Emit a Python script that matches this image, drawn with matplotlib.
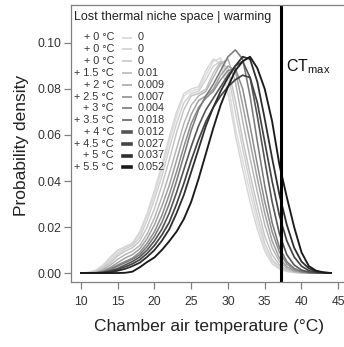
import numpy as np
import matplotlib
matplotlib.use("Agg")
import matplotlib.pyplot as plt
from matplotlib.lines import Line2D

plt.rcParams["font.family"] = ["Liberation Sans", "DejaVu Sans"]
plt.rcParams["mathtext.fontset"] = "custom"
plt.rcParams["mathtext.rm"] = "Liberation Sans"
plt.rcParams["mathtext.it"] = "Liberation Sans"

# chamber air temperature grid (degC)
temps = np.arange(10, 45, 1)

warming = ["0", "0", "0", "1.5", "2", "2.5", "3", "3.5", "4", "4.5", "5", "5.5"]
niche_lost = ["0", "0", "0", "0.01", "0.009", "0.007", "0.004", "0.018", "0.012", "0.027", "0.037", "0.052"]

dens_0a = [0, 0.0002, 0.001, 0.003, 0.0065, 0.0095, 0.011, 0.0125, 0.017, 0.025, 0.034, 0.045, 0.057, 0.068, 0.077,
           0.079, 0.080, 0.086, 0.092, 0.0935, 0.083, 0.063, 0.049, 0.035, 0.022, 0.011, 0.005, 0.002, 0.0008, 0.0003,
           0, 0, 0, 0, 0]
dens_0b = [0, 0.0003, 0.0012, 0.0035, 0.007, 0.010, 0.0115, 0.013, 0.018, 0.026, 0.036, 0.047, 0.059, 0.070, 0.078,
           0.080, 0.081, 0.088, 0.093, 0.091, 0.078, 0.060, 0.045, 0.031, 0.019, 0.0095, 0.004, 0.0017, 0.0007, 0.0002,
           0, 0, 0, 0, 0]
dens_0c = [0, 0.0001, 0.0008, 0.0025, 0.0055, 0.0085, 0.0105, 0.012, 0.0155, 0.023, 0.032, 0.042, 0.054, 0.065, 0.074,
           0.078, 0.079, 0.084, 0.090, 0.092, 0.087, 0.070, 0.054, 0.039, 0.025, 0.013, 0.006, 0.0025, 0.001, 0.0004,
           0.0001, 0, 0, 0, 0]
dens_15 = [0, 0.0001, 0.0005, 0.002, 0.0045, 0.0075, 0.0095, 0.011, 0.014, 0.020, 0.028, 0.038, 0.049, 0.061, 0.071,
           0.077, 0.078, 0.080, 0.087, 0.092, 0.089, 0.075, 0.058, 0.043, 0.029, 0.016, 0.008, 0.0035, 0.0013, 0.0005,
           0.0001, 0, 0, 0, 0]
dens_2 = [0, 0, 0.0003, 0.0015, 0.0035, 0.006, 0.008, 0.0095, 0.012, 0.017, 0.024, 0.033, 0.043, 0.054, 0.065,
          0.073, 0.077, 0.079, 0.085, 0.091, 0.093, 0.083, 0.066, 0.050, 0.035, 0.021, 0.011, 0.005, 0.002, 0.0007,
          0.0002, 0, 0, 0, 0]
dens_25 = [0, 0, 0.0002, 0.001, 0.0025, 0.0045, 0.0065, 0.008, 0.0105, 0.015, 0.021, 0.029, 0.038, 0.049, 0.060,
           0.069, 0.075, 0.077, 0.080, 0.086, 0.090, 0.088, 0.073, 0.057, 0.041, 0.026, 0.014, 0.0065, 0.0028, 0.001,
           0.0003, 0.0001, 0, 0, 0]
dens_3 = [0, 0, 0.0001, 0.0007, 0.002, 0.0035, 0.005, 0.0065, 0.009, 0.013, 0.018, 0.025, 0.034, 0.044, 0.055,
          0.065, 0.072, 0.076, 0.079, 0.084, 0.088, 0.089, 0.080, 0.064, 0.047, 0.031, 0.018, 0.009, 0.004, 0.0015,
          0.0005, 0.0001, 0, 0, 0]
dens_35 = [0, 0, 0, 0.0005, 0.0015, 0.003, 0.0045, 0.006, 0.008, 0.0115, 0.016, 0.022, 0.030, 0.040, 0.051,
           0.062, 0.071, 0.077, 0.082, 0.088, 0.094, 0.097, 0.093, 0.077, 0.057, 0.038, 0.022, 0.011, 0.005, 0.002,
           0.0007, 0.0002, 0, 0, 0]
dens_4 = [0, 0, 0, 0.0003, 0.001, 0.002, 0.0035, 0.005, 0.007, 0.010, 0.014, 0.019, 0.026, 0.035, 0.045,
          0.055, 0.064, 0.071, 0.076, 0.081, 0.086, 0.090, 0.092, 0.085, 0.068, 0.049, 0.031, 0.017, 0.008, 0.0035,
          0.0013, 0.0004, 0.0001, 0, 0]
dens_45 = [0, 0, 0, 0.0002, 0.0007, 0.0015, 0.0027, 0.004, 0.0058, 0.0085, 0.012, 0.0165, 0.022, 0.030, 0.039,
           0.049, 0.058, 0.066, 0.072, 0.077, 0.081, 0.084, 0.086, 0.085, 0.074, 0.057, 0.040, 0.025, 0.014, 0.007,
           0.003, 0.001, 0.0003, 0.0001, 0]
dens_5 = [0, 0, 0, 0.0001, 0.0004, 0.001, 0.0018, 0.003, 0.0045, 0.007, 0.010, 0.014, 0.019, 0.026, 0.034,
          0.044, 0.054, 0.064, 0.072, 0.079, 0.085, 0.090, 0.094, 0.093, 0.083, 0.067, 0.050, 0.034, 0.021, 0.011,
          0.005, 0.002, 0.0007, 0.0002, 0]
dens_55 = [0, 0, 0, 0, 0, 0, 0.0001, 0.0006, 0.0025, 0.0048, 0.0068, 0.010, 0.0138, 0.018, 0.0235,
           0.031, 0.041, 0.052, 0.063, 0.073, 0.081, 0.088, 0.092, 0.094, 0.089, 0.080, 0.066, 0.047, 0.033, 0.020,
           0.009, 0.003, 0.001, 0.0003, 0]

densities = [dens_0a, dens_0b, dens_0c, dens_15, dens_2, dens_25, dens_3, dens_35, dens_4, dens_45, dens_5, dens_55]

ct_max = 37.2

# grey ramp light -> dark, slightly heavier lines for the warmer runs
greys = ["#dcdcdc", "#d6d6d6", "#d0d0d0", "#c4c4c4", "#b4b4b4", "#a0a0a0",
         "#8c8c8c", "#7a7a7a", "#555555", "#444444", "#2e2e2e", "#1a1a1a"]
widths = [1.05, 1.05, 1.05, 1.05, 1.05, 1.1, 1.1, 1.15, 1.2, 1.25, 1.3, 1.35]

W, H = 344, 347
fig = plt.figure(figsize=(W / 100, H / 100), dpi=100)
ax = fig.add_axes([71 / W, 65 / H, 274 / W, 277 / H])

for d, c, lw in zip(densities, greys, widths):
    ax.plot(temps, d, color=c, lw=lw, solid_joinstyle="round")

ax.axvline(ct_max, color="black", lw=2.2)
ax.text(37.9, 0.0878, r"CT$_{\mathrm{max}}$", fontsize=11.5, ha="left", va="baseline", color="#111111")

ax.set_xlim(8.64, 45.92)
ax.set_ylim(-0.0039, 0.1165)
ax.set_xticks([10, 15, 20, 25, 30, 35, 40, 45])
ax.set_yticks([0.0, 0.02, 0.04, 0.06, 0.08, 0.10])
ax.set_yticklabels(["0.00", "0.02", "0.04", "0.06", "0.08", "0.10"])

for side in ["left", "bottom", "top"]:
    ax.spines[side].set_color("#808080")
    ax.spines[side].set_linewidth(0.9)
ax.spines["right"].set_visible(False)
ax.tick_params(axis="both", length=5.2, width=0.9, color="#808080", labelsize=8.7, labelcolor="#333333")
ax.tick_params(axis="y", pad=1.8)
ax.tick_params(axis="x", pad=4.6)

fig.text(22 / W, 1 - 145 / H, "Probability density", rotation=90, ha="center", va="center",
         fontsize=12.5, color="#222222")
fig.text(209 / W, 1 - 327 / H, "Chamber air temperature (°C)", ha="center", va="center",
         fontsize=12.5, color="#222222")

# legend drawn by hand, R style
fig.text(74 / W, 1 - 17 / H, "Lost thermal niche space | warming", ha="left", va="center",
         fontsize=9, color="#222222")
row0, step = 37.5, 11.8
for i, (w, v, c) in enumerate(zip(warming, niche_lost, greys)):
    y = 1 - (row0 + i * step) / H
    fig.text(114 / W, y, f"+ {w} °C", ha="right", va="center", fontsize=7.8, color="#333333")
    lw = 1.4 if i < 8 else 2.6
    fig.add_artist(Line2D([123 / W, 131 / W], [y, y], color=c, lw=lw, transform=fig.transFigure))
    fig.text(138 / W, y, v, ha="left", va="center", fontsize=7.8, color="#333333")

fig.savefig("out.png", dpi=100)
